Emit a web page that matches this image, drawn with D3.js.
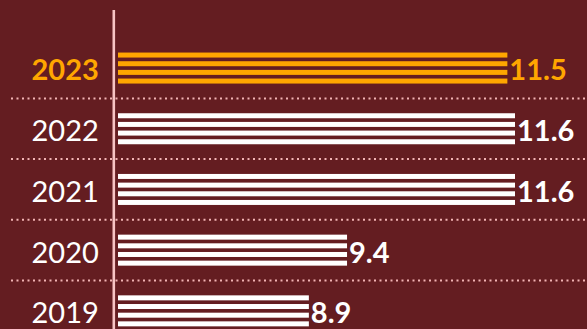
<!DOCTYPE html>
<html>
<head>
<meta charset="utf-8">
<script src="https://cdn.jsdelivr.net/npm/d3@7"></script>
<style>
  html, body { margin: 0; padding: 0; background: #641d21; }
  svg { display: block; }
</style>
</head>
<body>
<svg id="chart" width="587" height="329"></svg>
<script>
// Yearly values, newest first
const years = ["2023", "2022", "2021", "2020", "2019"];
const values = [11.5, 11.6, 11.6, 9.4, 8.9];
const valueLabels = ["11.5", "11.6", "11.6", "9.4", "8.9"];
const highlightYear = "2023";

const W = 587, H = 329;
const bg = "#641d21";
const orange = "#ffa600";
const white = "#ffffff";
const pink = "#f2b4b4";

const svg = d3.select("#chart");
svg.append("rect").attr("width", W).attr("height", H).attr("fill", bg);

const rows = years.map((y, i) => ({ year: y, value: values[i], label: valueLabels[i] }));

const y = d3.scaleBand().domain(years).range([37.7, 341.2]).padding(0);
const x = d3.scaleLinear().domain([6.4, 11.6]).range([118, 515]);

const barH = 31;
const stripeH = 5;
const stripes = d3.range(4);
const stripeY = d3.scaleLinear().domain([0, 3]).range([0, barH - stripeH]);

// Dotted separators between rows
const seps = years.slice(1);
svg.append("g").selectAll("line").data(seps).join("line")
  .attr("x1", 11).attr("x2", W)
  .attr("y1", d => y(d)).attr("y2", d => y(d))
  .attr("stroke", pink).attr("stroke-width", 2)
  .attr("stroke-dasharray", "2,3.5");

// Vertical axis line
svg.append("line")
  .attr("x1", 113.8).attr("x2", 113.8)
  .attr("y1", 10).attr("y2", H)
  .attr("stroke", "#f7c4c4").attr("stroke-width", 2.6);

const colorOf = d => d.year === highlightYear ? orange : white;

// Striped bars
const g = svg.append("g").selectAll("g").data(rows).join("g")
  .attr("transform", d => `translate(0,${y(d.year) + (y.bandwidth() - barH) / 2})`);

g.selectAll("rect").data(d => stripes.map(s => ({ s, d }))).join("rect")
  .attr("x", x.range()[0])
  .attr("y", e => stripeY(e.s))
  .attr("width", e => x(e.d.value) - x.range()[0])
  .attr("height", stripeH)
  .attr("fill", e => colorOf(e.d));

const font = "Lato, 'Open Sans', sans-serif";

// Year labels
svg.append("g").selectAll("text").data(rows).join("text")
  .attr("x", 31.5)
  .attr("y", d => y(d.year) + y.bandwidth() / 2 + 12.4)
  .attr("font-family", font)
  .attr("font-size", 29)
  .attr("font-weight", d => d.year === highlightYear ? 700 : 400)
  .attr("fill", colorOf)
  .text(d => d.year);

// Value labels
svg.append("g").selectAll("text").data(rows).join("text")
  .attr("x", d => x(d.value) + 2)
  .attr("y", d => y(d.year) + y.bandwidth() / 2 + 12.4)
  .attr("font-family", font)
  .attr("font-size", 29)
  .attr("font-weight", 700)
  .attr("fill", colorOf)
  .text(d => d.label);
</script>
</body>
</html>
